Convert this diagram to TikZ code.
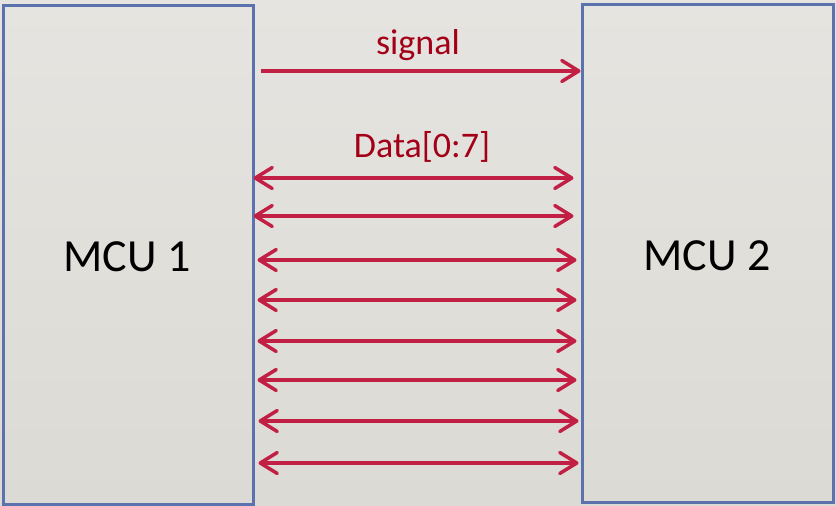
\documentclass[tikz,border=0pt]{standalone}
\usepackage{fontspec}
\setmainfont{Carlito}
\usetikzlibrary{arrows.meta}
\definecolor{bgtop}{HTML}{E6E4E0}
\definecolor{bgbot}{HTML}{DCDAD4}
\definecolor{boxedge}{HTML}{5B72AE}
\definecolor{wire}{HTML}{C21F45}
\definecolor{labelred}{HTML}{A30018}
\tikzset{
  mcu/.style={draw=boxedge, line width=3pt, fill=none, inner sep=0pt},
  mcutext/.style={font=\fontsize{46}{52}\selectfont, text=black, inner sep=0pt},
  wirelabel/.style={font=\fontsize{36}{40}\selectfont, text=labelred, inner sep=0pt},
  chevron/.tip={Straight Barb[length=17pt, width=21pt, line width=3.5pt, round]},
  bus/.style={draw=wire, line width=3.5pt, chevron-chevron},
  sig/.style={draw=wire, line width=3.5pt, -chevron}
}
\begin{document}
\begin{tikzpicture}[x=1pt, y=-1pt]
  % canvas
  \shade[top color=bgtop, bottom color=bgbot] (0,0) rectangle (836,506);
  \useasboundingbox (0,0) rectangle (836,506);

  % the two controllers
  \node[mcu, minimum width=250pt, minimum height=499pt] (m1) at (128,254.5) {};
  \node[mcu, minimum width=251pt, minimum height=498pt] (m2) at (707.5,253) {};
  \node[mcutext] (t1) at (127,257) {MCU 1};
  \node[mcutext] (t2) at (707,256) {MCU 2};

  % control line
  \draw[sig] ([xshift=6pt]m1.east |- 0,71) -- (m2.west |- 0,71);
  \node[wirelabel] (lsig) at (418,45) {signal};

  % data bus
  \node[wirelabel] (ldata) at (422,147) {Data[0:7]};
  \foreach \yy/\l/\r in {178/-1/7, 216/-1/7, 260/3/4, 300/3/4, 341/3/4, 380/3/4, 421/4/2, 463/4/2}{
    \draw[bus] ([xshift=\l pt]m1.east |- 0,\yy) -- ([xshift=-\r pt]m2.west |- 0,\yy);
  }
\end{tikzpicture}
\end{document}
